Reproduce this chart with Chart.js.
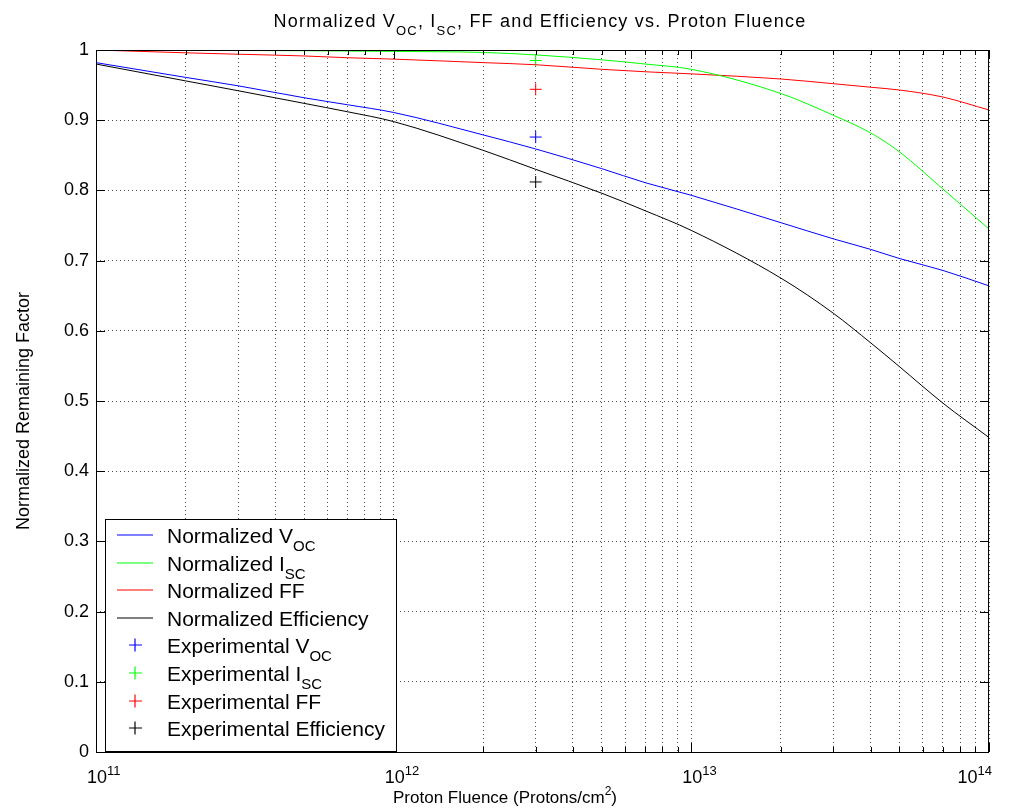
<!DOCTYPE html>
<html>
<head>
<meta charset="utf-8">
<script src="https://cdn.jsdelivr.net/npm/chart.js@4.4.1/dist/chart.umd.min.js"></script>
<style>
  html, body { margin: 0; padding: 0; background: #fff; }
  #wrap { width: 1011px; height: 812px; }
</style>
</head>
<body>
<div id="wrap"><canvas id="mycanvas" width="1011" height="812"></canvas></div>
<script>
// proton fluence (protons/cm^2) and normalized remaining factors
var fluence = [1e11, 2e11, 3e11, 5e11, 7e11, 1e12, 2e12, 3e12, 5e12, 7e12, 1e13, 2e13, 3e13, 4e13, 5e13, 7e13, 1e14];
var vocNorm = [0.982, 0.961, 0.949, 0.932, 0.922, 0.911, 0.879, 0.859, 0.831, 0.811, 0.793, 0.754, 0.731, 0.716, 0.703, 0.686, 0.664];
var iscNorm = [1.000, 0.9995, 0.9993, 0.999, 0.9985, 0.998, 0.9965, 0.993, 0.986, 0.980, 0.9725, 0.938, 0.907, 0.882, 0.855, 0.802, 0.745];
var ffNorm  = [1.000, 0.996, 0.994, 0.9915, 0.989, 0.987, 0.982, 0.979, 0.9725, 0.969, 0.966, 0.9587, 0.952, 0.947, 0.943, 0.933, 0.9145];
var effNorm = [0.980, 0.956, 0.942, 0.924, 0.912, 0.898, 0.857, 0.830, 0.796, 0.771, 0.743, 0.675, 0.625, 0.583, 0.549, 0.497, 0.448];

// measured cell
var expFluence = [3e12];
var expVoc = [0.876];
var expIsc = [0.985];
var expFf  = [0.944];
var expEff = [0.812];

var seriesColors = ['#0000ff', '#00ff00', '#ff0000', '#000000'];

var yTickLabels = ['0', '0.1', '0.2', '0.3', '0.4', '0.5', '0.6', '0.7', '0.8', '0.9', '1'];
var xDecades = [1e11, 1e12, 1e13, 1e14];
var xDecadeExp = ['11', '12', '13', '14'];

// text pieces: 0 = normal, 1 = subscript, 2 = superscript
var titleParts = [['Normalized V', 0], ['OC', 1], [', I', 0], ['SC', 1], [', FF and Efficiency vs. Proton Fluence', 0]];
var xTitleParts = [['Proton Fluence (Protons/cm', 0], ['2', 2], [')', 0]];
var yTitle = 'Normalized Remaining Factor';
var legendLabels = [
  [['Normalized V', 0], ['OC', 1]],
  [['Normalized I', 0], ['SC', 1]],
  [['Normalized FF', 0]],
  [['Normalized Efficiency', 0]],
  [['Experimental V', 0], ['OC', 1]],
  [['Experimental I', 0], ['SC', 1]],
  [['Experimental FF', 0]],
  [['Experimental Efficiency', 0]]
];

var FONT = '"Liberation Sans", Arial, Helvetica, sans-serif';

function pts(xs, ys) {
  var out = [];
  for (var i = 0; i < xs.length; i++) out.push({x: xs[i], y: ys[i]});
  return out;
}

function lineSet(label, ys, color) {
  return {
    label: label, data: pts(fluence, ys), borderColor: color, backgroundColor: color,
    borderWidth: 1, pointRadius: 0, fill: false, cubicInterpolationMode: 'monotone'
  };
}

function markSet(label, ys, color) {
  return {
    label: label, data: pts(expFluence, ys), borderColor: color, backgroundColor: color,
    showLine: false, pointStyle: 'cross', pointRadius: 6, pointBorderWidth: 1
  };
}

function richWidth(ctx, parts, size) {
  var w = 0;
  parts.forEach(function(p) {
    ctx.font = (p[1] ? Math.round(size * 0.72) : size) + 'px ' + FONT;
    w += ctx.measureText(p[0]).width;
  });
  return w;
}

function drawRich(ctx, parts, x, y, size) {
  ctx.textAlign = 'left';
  ctx.textBaseline = 'alphabetic';
  parts.forEach(function(p) {
    var s = p[1] ? Math.round(size * 0.72) : size;
    var dy = p[1] == 1 ? size * 0.42 : (p[1] == 2 ? -size * 0.45 : 0);
    ctx.font = s + 'px ' + FONT;
    ctx.fillText(p[0], x, y + dy);
    x += ctx.measureText(p[0]).width;
  });
}

var matlabDecor = {
  id: 'matlabDecor',
  afterDraw: function(chart) {
    var ctx = chart.ctx;
    var a = chart.chartArea;
    var xs = chart.scales.x, ys = chart.scales.y;
    ctx.save();
    ctx.strokeStyle = '#000';
    ctx.fillStyle = '#000';
    ctx.lineWidth = 1;

    // tick marks on all four sides
    ctx.beginPath();
    xs.ticks.forEach(function(t) {
      var px = Math.round(xs.getPixelForValue(t.value)) + 0.5;
      var major = Math.abs(Math.log10(t.value) - Math.round(Math.log10(t.value))) < 1e-9;
      var len = major ? 9 : 5;
      ctx.moveTo(px, a.bottom); ctx.lineTo(px, a.bottom - len);
      ctx.moveTo(px, a.top); ctx.lineTo(px, a.top + len);
    });
    ys.ticks.forEach(function(t) {
      var py = Math.round(ys.getPixelForValue(t.value)) + 0.5;
      ctx.moveTo(a.left, py); ctx.lineTo(a.left + 9, py);
      ctx.moveTo(a.right, py); ctx.lineTo(a.right - 9, py);
    });
    ctx.stroke();

    // axes box
    ctx.strokeRect(Math.round(a.left) + 0.5, Math.round(a.top) + 0.5,
      Math.round(a.right - a.left) - 1, Math.round(a.bottom - a.top));

    // x tick labels 10^n
    xDecades.forEach(function(v, i) {
      var px = xs.getPixelForValue(v);
      var parts = [['10', 0], [xDecadeExp[i], 2]];
      var w = richWidth(ctx, parts, 18);
      var x0 = px - 9;
      if (x0 + w > 992) x0 = 992 - w;
      drawRich(ctx, parts, x0, 783, 18);
    });

    // titles
    ctx.letterSpacing = '1.2px';
    var tw = richWidth(ctx, titleParts, 18);
    drawRich(ctx, titleParts, 540 - tw / 2, 27, 18);
    ctx.letterSpacing = '0px';
    drawRich(ctx, xTitleParts, 393, 803, 17);

    ctx.save();
    ctx.translate(24, 411);
    ctx.rotate(-Math.PI / 2);
    ctx.font = '18px ' + FONT;
    ctx.textAlign = 'center';
    ctx.textBaseline = 'middle';
    ctx.fillText(yTitle, 0, 0);
    ctx.restore();

    // legend box
    var lx = 105, ly = 519, lw = 291, lh = 232;
    ctx.fillStyle = '#fff';
    ctx.fillRect(lx, ly, lw, lh);
    ctx.strokeStyle = '#000';
    ctx.strokeRect(lx + 0.5, ly + 0.5, lw, lh);
    legendLabels.forEach(function(lab, i) {
      var ry = Math.round(535 + i * 27.6);
      ctx.strokeStyle = seriesColors[i % 4];
      ctx.lineWidth = 1.2;
      ctx.beginPath();
      if (i >= 4) {
        ctx.moveTo(129, ry); ctx.lineTo(142, ry);
        ctx.moveTo(135, ry - 6.5); ctx.lineTo(135, ry + 6.5);
      } else {
        ctx.moveTo(117, ry); ctx.lineTo(153, ry);
      }
      ctx.stroke();
      ctx.fillStyle = '#000';
      drawRich(ctx, lab, 167, ry + 7.5, 21);
    });
    ctx.restore();
  }
};

var ctx = document.getElementById('mycanvas');
var chart = new Chart(ctx, {
  type: 'line',
  data: {
    datasets: [
      lineSet('Normalized Voc', vocNorm, seriesColors[0]),
      lineSet('Normalized Isc', iscNorm, seriesColors[1]),
      lineSet('Normalized FF', ffNorm, seriesColors[2]),
      lineSet('Normalized Efficiency', effNorm, seriesColors[3]),
      markSet('Experimental Voc', expVoc, seriesColors[0]),
      markSet('Experimental Isc', expIsc, seriesColors[1]),
      markSet('Experimental FF', expFf, seriesColors[2]),
      markSet('Experimental Efficiency', expEff, seriesColors[3])
    ]
  },
  options: {
    responsive: false,
    animation: false,
    events: [],
    layout: { padding: { top: 50, right: 22, left: 0, bottom: 0 } },
    plugins: { legend: { display: false }, tooltip: { enabled: false }, title: { display: false } },
    scales: {
      x: {
        type: 'logarithmic',
        min: 1e11,
        max: 1e14,
        afterBuildTicks: function(scale) {
          var t = [];
          for (var d = 0; d < xDecades.length - 1; d++) {
            for (var k = 1; k < 10; k++) t.push({value: k * xDecades[d]});
          }
          t.push({value: xDecades[xDecades.length - 1]});
          scale.ticks = t;
        },
        afterFit: function(scale) { scale.height = 60; },
        ticks: { display: false },
        grid: { color: 'rgba(0,0,0,0.7)', lineWidth: 1, drawTicks: false },
        border: { display: false, dash: [1, 3] }
      },
      y: {
        min: 0,
        max: 1,
        afterFit: function(scale) { scale.width = 96; },
        ticks: {
          stepSize: 0.1,
          padding: 7,
          color: '#000',
          font: { family: FONT, size: 18 },
          callback: function(v, i) { return yTickLabels[i]; }
        },
        grid: { color: 'rgba(0,0,0,0.7)', lineWidth: 1, drawTicks: false },
        border: { display: false, dash: [1, 3] }
      }
    }
  },
  plugins: [matlabDecor]
});
</script>
</body>
</html>
